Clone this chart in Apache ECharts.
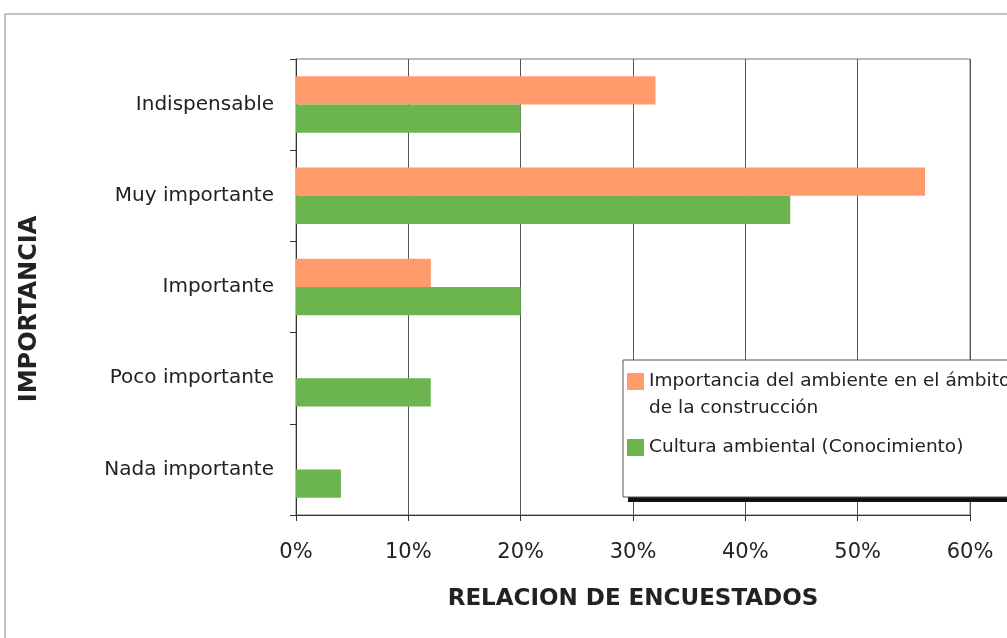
<!DOCTYPE html>
<html>
<head>
<meta charset="utf-8">
<script src="https://cdn.jsdelivr.net/npm/echarts@6/dist/echarts.min.js"></script>
<style>
  html, body { margin: 0; padding: 0; background: #fff; }
  #chart { width: 1007px; height: 638px; }
</style>
</head>
<body>
<div id="chart"></div>
<script>
// categorias de arriba hacia abajo
const categorias = ["Indispensable", "Muy importante", "Importante", "Poco importante", "Nada importante"];
// valores en %
const importanciaAmbiente = [32, 56, 12, 0, 0];
const culturaAmbiental = [20, 44, 20, 12, 4];
const ticksX = [0, 10, 20, 30, 40, 50, 60];
const nombres = [
  "Importancia del ambiente en el ámbito de la construcción",
  "Cultura ambiental (Conocimiento)",
];

const chart = echarts.init(document.getElementById("chart"));
const fuente = "DejaVu Sans, sans-serif";

const option = {
  backgroundColor: "#ffffff",
  animation: false,
  grid: {
    left: 296,
    top: 59,
    right: 37,
    bottom: 123,
    show: true,
    borderColor: "#777",
    borderWidth: 1,
  },
  xAxis: {
    type: "value",
    min: ticksX[0],
    max: ticksX[ticksX.length - 1],
    interval: 10,
    name: "RELACION DE ENCUESTADOS",
    nameLocation: "middle",
    nameGap: 73,
    nameTextStyle: { fontFamily: fuente, fontSize: 23, fontWeight: "bold", color: "#222" },
    axisLine: { show: true, lineStyle: { color: "#333", width: 1 } },
    axisTick: { show: true, length: 6, lineStyle: { color: "#333" } },
    axisLabel: {
      formatter: "{value}%",
      margin: 27,
      fontFamily: fuente,
      fontSize: 21,
      color: "#222",
    },
    splitLine: { show: true, lineStyle: { color: "#555", width: 1 } },
  },
  yAxis: {
    type: "category",
    inverse: true,
    data: categorias,
    name: "IMPORTANCIA",
    nameLocation: "middle",
    nameGap: 254,
    nameRotate: 90,
    nameTextStyle: {
      fontFamily: fuente,
      fontSize: 24,
      fontWeight: "bold",
      color: "#222",
      padding: [0, 44, 0, 0],
    },
    axisLine: { show: true, lineStyle: { color: "#333", width: 1 } },
    axisTick: { show: true, length: 6, lineStyle: { color: "#333" } },
    axisLabel: {
      margin: 22,
      fontFamily: fuente,
      fontSize: 20,
      color: "#222",
    },
  },
  legend: {
    orient: "vertical",
    left: 627,
    top: 372,
    padding: 0,
    z: 10,
    itemWidth: 17,
    itemHeight: 17,
    itemGap: 47,
    icon: "rect",
    textStyle: { fontFamily: fuente, fontSize: 18.5, color: "#222" },
    // la segunda linea del primer nombre va como texto aparte
    formatter: name => name.replace(" de la construcción", ""),
    data: nombres,
  },
  graphic: [
    // marco exterior
    {
      type: "polyline",
      z: 0,
      shape: { points: [[5, 638], [5, 14], [1007, 14]] },
      style: { stroke: "#888", lineWidth: 1, fill: null },
    },
    // sombra de la leyenda
    {
      type: "rect",
      z: 8,
      shape: { x: 628, y: 365, width: 400, height: 137 },
      style: { fill: "#111" },
    },
    {
      type: "rect",
      z: 9,
      shape: { x: 623, y: 360, width: 400, height: 137 },
      style: { fill: "#fff", stroke: "#555", lineWidth: 1 },
    },
    {
      type: "text",
      z: 11,
      x: 649,
      y: 408,
      style: {
        text: "de la construcción",
        font: "18.5px DejaVu Sans, sans-serif",
        fill: "#222",
        verticalAlign: "middle",
      },
    },
  ],
  series: [
    {
      name: nombres[0],
      type: "bar",
      data: importanciaAmbiente,
      barGap: "0%",
      barCategoryGap: "38%",
      itemStyle: { color: "#ff9a6a" },
    },
    {
      name: nombres[1],
      type: "bar",
      data: culturaAmbiental,
      barGap: "0%",
      barCategoryGap: "38%",
      itemStyle: { color: "#6cb44e" },
    },
  ],
};

chart.setOption(option);
</script>
</body>
</html>
